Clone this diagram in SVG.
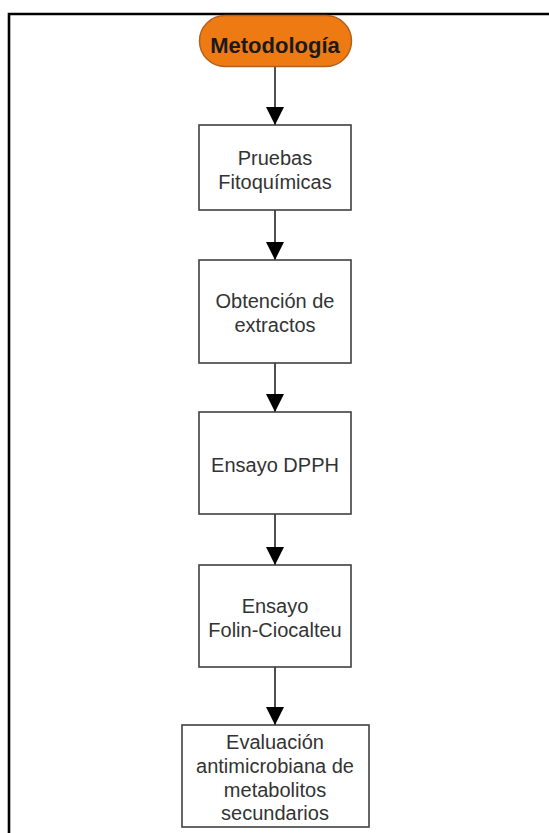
<svg xmlns="http://www.w3.org/2000/svg" width="549" height="833" viewBox="0 0 549 833">
<style>
.box{fill:#fff;stroke:#404040;stroke-width:1.6}
.t{font-family:"Liberation Sans",Arial,sans-serif;font-size:20px;fill:#333;text-anchor:middle}
.c{stroke:#222;stroke-width:1.6;fill:none}
</style>
<defs>
<marker id="ah" markerUnits="userSpaceOnUse" markerWidth="20" markerHeight="20" refX="18" refY="9" orient="auto">
<path d="M0,0 L18,9 L0,18 Z" fill="#000"/>
</marker>
</defs>
<rect width="549" height="833" fill="#fff"/>
<path d="M9,840 V14 H560" fill="none" stroke="#000" stroke-width="2.6"/>
<g id="connectors">
<line class="c" x1="275" y1="67" x2="275" y2="125" marker-end="url(#ah)"/>
<line class="c" x1="275" y1="210" x2="275" y2="260" marker-end="url(#ah)"/>
<line class="c" x1="275" y1="363" x2="275" y2="412" marker-end="url(#ah)"/>
<line class="c" x1="275" y1="514" x2="275" y2="565" marker-end="url(#ah)"/>
<line class="c" x1="275" y1="667" x2="275" y2="725" marker-end="url(#ah)"/>
</g>
<g id="metodologia">
<rect x="199.5" y="15.5" width="152" height="51" rx="25.5" fill="#EE7A14" stroke="#B5601A" stroke-width="1.5"/>
<text x="275" y="53" font-family="'Liberation Sans',Arial,sans-serif" font-size="22" font-weight="bold" fill="#1a1a1a" text-anchor="middle">Metodología</text>
</g>
<g id="pruebas">
<rect class="box" x="199" y="125" width="152" height="85"/>
<text class="t" x="275" y="165">Pruebas</text>
<text class="t" x="275" y="189">Fitoquímicas</text>
</g>
<g id="obtencion">
<rect class="box" x="199" y="260" width="152" height="103"/>
<text class="t" x="275" y="308">Obtención de</text>
<text class="t" x="275" y="332">extractos</text>
</g>
<g id="dpph">
<rect class="box" x="199" y="412" width="152" height="102"/>
<text class="t" x="275" y="472">Ensayo DPPH</text>
</g>
<g id="folin">
<rect class="box" x="199" y="565" width="152" height="102"/>
<text class="t" x="275" y="613">Ensayo</text>
<text class="t" x="275" y="637">Folin-Ciocalteu</text>
</g>
<g id="evaluacion">
<rect class="box" x="182" y="725" width="187" height="102"/>
<text class="t" x="275" y="749">Evaluación</text>
<text class="t" x="275" y="773">antimicrobiana de</text>
<text class="t" x="275" y="797">metabolitos</text>
<text class="t" x="275" y="820">secundarios</text>
</g>
</svg>
